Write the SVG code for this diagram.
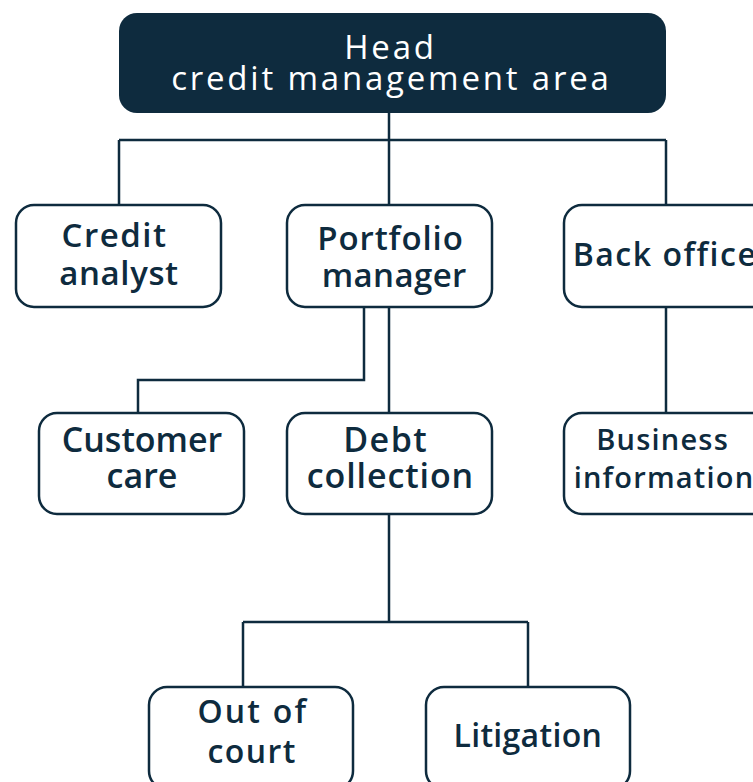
<svg xmlns="http://www.w3.org/2000/svg" width="753" height="782" viewBox="0 0 753 782">
<style>
.box{fill:#fff;stroke:#0e2b3e;stroke-width:2.5}
.t{font-family:"Open Sans","Liberation Sans",sans-serif;font-weight:600;fill:#0e2b3e;text-anchor:middle}
.h{font-family:"Open Sans","Liberation Sans",sans-serif;font-weight:500;fill:#fff;text-anchor:middle;font-size:33px;letter-spacing:2.8px}
.c{fill:none;stroke:#0e2b3e;stroke-width:2.5}
</style>
<rect width="753" height="782" fill="#fff"/>
<g id="connectors">
<path class="c" d="M389 113V140M119 140H666M119 140V205M389 140V205M666 140V205"/>
<path class="c" d="M364 307V380H138V413M389 307V413"/>
<path class="c" d="M666 307V413"/>
<path class="c" d="M389 514V622M243 622H528M243 622V687M528 622V687"/>
</g>
<g id="head">
<rect x="119" y="13" width="547" height="100" rx="18" fill="#0e2b3e"/>
<text class="h" x="390.5" y="59">Head</text>
<text class="h" x="391.4" y="90">credit management area</text>
</g>
<g id="credit-analyst">
<rect class="box" x="16" y="205" width="205" height="102" rx="18"/>
<text class="t" x="114.5" y="247" font-size="33" letter-spacing="1.5">Credit</text>
<text class="t" x="119" y="285" font-size="33" letter-spacing="0.6">analyst</text>
</g>
<g id="portfolio-manager">
<rect class="box" x="287" y="205" width="205" height="102" rx="18"/>
<text class="t" x="390.5" y="250" font-size="33" letter-spacing="0.9">Portfolio</text>
<text class="t" x="394.2" y="287" font-size="33" letter-spacing="0.4">manager</text>
</g>
<g id="back-office">
<rect class="box" x="564" y="205" width="205" height="102" rx="18"/>
<text class="t" x="665" y="266" font-size="32" letter-spacing="1.5">Back office</text>
</g>
<g id="customer-care">
<rect class="box" x="39" y="413" width="205" height="101" rx="18"/>
<text class="t" x="142" y="452" font-size="34">Customer</text>
<text class="t" x="142" y="488" font-size="34">care</text>
</g>
<g id="debt-collection">
<rect class="box" x="287" y="413" width="205" height="101" rx="18"/>
<text class="t" x="385.7" y="452" font-size="34" letter-spacing="1.5">Debt</text>
<text class="t" x="390.4" y="488" font-size="34" letter-spacing="0.9">collection</text>
</g>
<g id="business-information">
<rect class="box" x="564" y="413" width="205" height="101" rx="18"/>
<text class="t" x="662.6" y="450" font-size="29" letter-spacing="1.2">Business</text>
<text class="t" x="664" y="488" font-size="29" letter-spacing="1.2">information</text>
</g>
<g id="out-of-court">
<rect class="box" x="149" y="687" width="204" height="102" rx="18"/>
<text class="t" x="252.8" y="723" font-size="32" letter-spacing="2.2">Out of</text>
<text class="t" x="252.2" y="763" font-size="32" letter-spacing="1.4">court</text>
</g>
<g id="litigation">
<rect class="box" x="426" y="687" width="204" height="102" rx="18"/>
<text class="t" x="527.8" y="747" font-size="32" letter-spacing="0.3">Litigation</text>
</g>
</svg>
